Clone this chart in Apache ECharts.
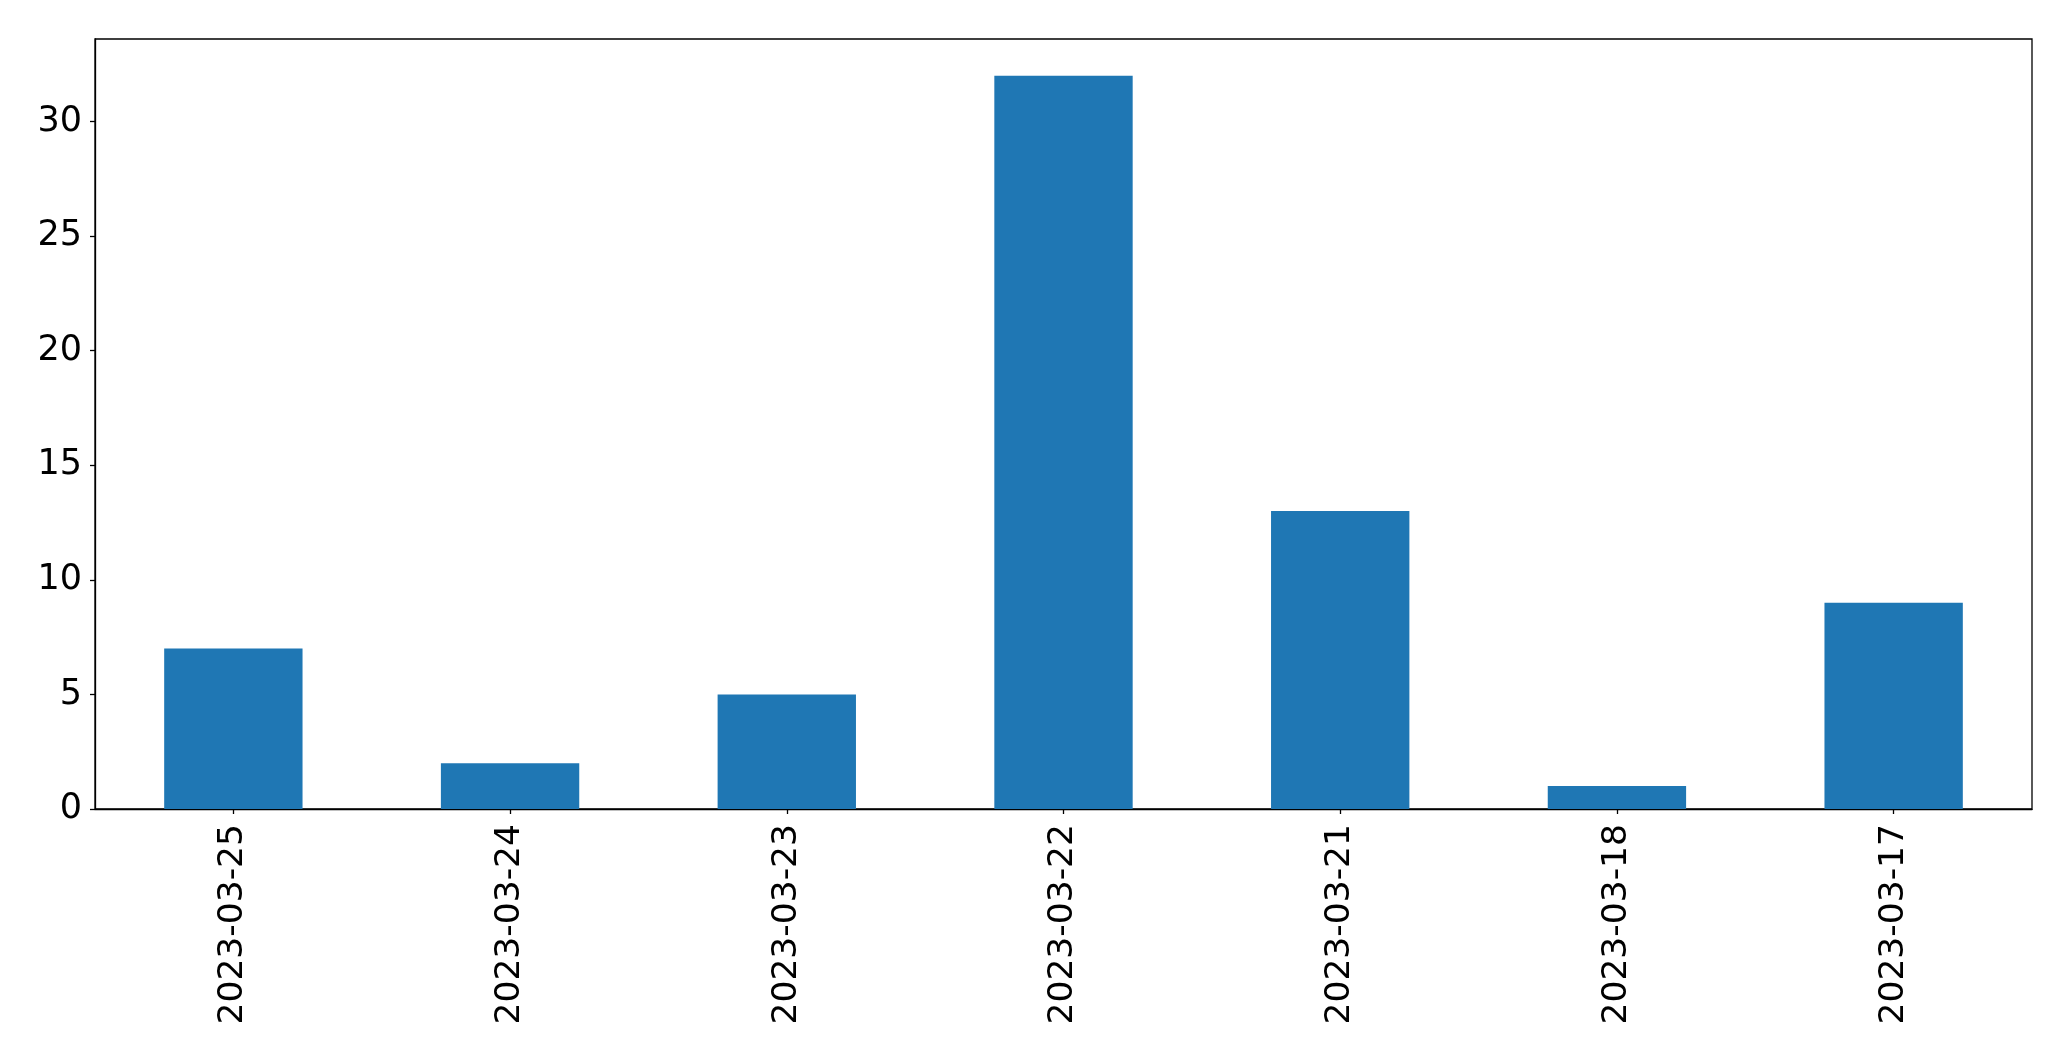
<!DOCTYPE html>
<html>
<head>
<meta charset="utf-8">
<script src="https://cdn.jsdelivr.net/npm/echarts@6/dist/echarts.min.js"></script>
<style>
  html, body { margin: 0; padding: 0; background: #fff; }
  #chart { width: 2071px; height: 1061px; }
</style>
</head>
<body>
<div id="chart"></div>
<script>
// dates as they appear on the x axis (newest first)
var dates = ['2023-03-25', '2023-03-24', '2023-03-23', '2023-03-22', '2023-03-21', '2023-03-18', '2023-03-17'];
var counts = [7, 2, 5, 32, 13, 1, 9];
var yTicks = [0, 5, 10, 15, 20, 25, 30];

var chart = echarts.init(document.getElementById('chart'));

var option = {
    animation: false,
    backgroundColor: '#ffffff',
    textStyle: { fontFamily: 'DejaVu Sans' },
    grid: {
        left: 95,
        right: 39,
        top: 39,
        bottom: 252,
        show: true,
        borderColor: '#000',
        borderWidth: 1.3,
        containLabel: false
    },
    xAxis: {
        type: 'category',
        data: dates,
        boundaryGap: true,
        axisLine: { show: true, lineStyle: { color: '#000', width: 1.3 } },
        axisTick: { show: true, alignWithLabel: true, length: 5, lineStyle: { color: '#000', width: 1.3 } },
        axisLabel: {
            rotate: 90,
            interval: 0,
            margin: 15,
            fontSize: 34.5,
            color: '#000',
            fontFamily: 'DejaVu Sans'
        },
        splitLine: { show: false }
    },
    yAxis: {
        type: 'value',
        min: 0,
        max: 33.6,
        interval: 5,
        axisLine: { show: true, lineStyle: { color: '#000', width: 1.3 } },
        axisTick: { show: true, length: 5, lineStyle: { color: '#000', width: 1.3 } },
        axisLabel: {
            margin: 13,
            fontSize: 35,
            color: '#000',
            fontFamily: 'DejaVu Sans',
            padding: [8, 0, 0, 0],
            showMaxLabel: false,
            formatter: function (v) {
                return yTicks.indexOf(v) >= 0 ? String(v) : '';
            }
        },
        splitLine: { show: false }
    },
    series: [{
        type: 'bar',
        data: counts,
        barWidth: '50%',
        itemStyle: { color: '#1f77b4' }
    }]
};

chart.setOption(option);
</script>
</body>
</html>
